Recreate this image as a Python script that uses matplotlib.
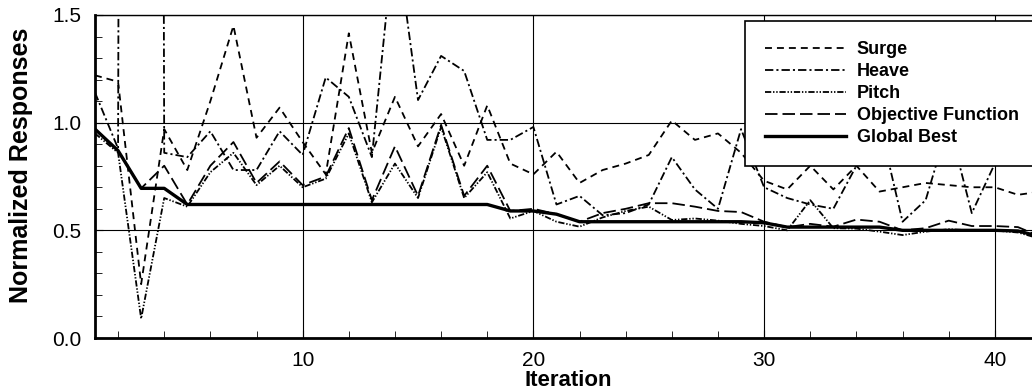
import numpy as np
import matplotlib
matplotlib.use("Agg")
import matplotlib.pyplot as plt
from matplotlib.ticker import MultipleLocator

plt.rcParams['font.family'] = ['Liberation Sans', 'DejaVu Sans']
plt.rcParams['lines.scale_dashes'] = False

iteration = np.arange(1, 43)

surge = [1.22, 1.19, 0.25, 0.97, 0.78, 1.10, 1.45, 0.93, 1.07, 0.91,
         0.76, 1.415, 0.86, 1.12, 0.89, 1.04, 0.80, 1.08, 0.81, 0.76,
         0.865, 0.72, 0.78, 0.81, 0.85, 1.01, 0.92, 0.95, 0.86, 0.73,
         0.69, 0.80, 0.69, 0.80, 0.68, 0.70, 0.72, 0.71, 0.70, 0.70,
         0.665, 0.68]
heave = [1.14, 0.88, 40.0, 0.86, 0.84, 0.96, 0.78, 0.78, 0.96, 0.85,
         1.21, 1.12, 0.84, 1.90, 1.105, 1.31, 1.24, 0.92, 0.92, 0.98,
         0.62, 0.66, 0.57, 0.58, 0.62, 0.84, 0.69, 0.60, 0.97, 0.70,
         0.65, 0.62, 0.60, 0.80, 1.00, 0.54, 0.64, 1.00, 0.58, 0.81,
         0.90, 0.95]
pitch = [0.95, 0.86, 0.09, 0.65, 0.61, 0.77, 0.86, 0.71, 0.80, 0.70,
         0.74, 0.95, 0.63, 0.81, 0.65, 0.98, 0.65, 0.77, 0.555, 0.59,
         0.54, 0.517, 0.56, 0.59, 0.61, 0.548, 0.555, 0.545, 0.53, 0.52,
         0.50, 0.64, 0.51, 0.508, 0.494, 0.478, 0.494, 0.505, 0.50, 0.499,
         0.49, 0.46]
objective = [0.97, 0.87, 0.695, 0.80, 0.62, 0.80, 0.91, 0.72, 0.82, 0.71,
             0.75, 0.975, 0.64, 0.89, 0.66, 0.99, 0.66, 0.80, 0.59, 0.60,
             0.575, 0.54, 0.58, 0.60, 0.626, 0.626, 0.61, 0.59, 0.585, 0.54,
             0.515, 0.53, 0.517, 0.55, 0.54, 0.50, 0.51, 0.545, 0.52, 0.52,
             0.515, 0.47]
global_best = [0.97, 0.87, 0.695, 0.695, 0.62, 0.62, 0.62, 0.62, 0.62, 0.62,
               0.62, 0.62, 0.62, 0.62, 0.62, 0.62, 0.62, 0.62, 0.59, 0.59,
               0.575, 0.54, 0.54, 0.54, 0.54, 0.54, 0.54, 0.54, 0.54, 0.535,
               0.515, 0.515, 0.515, 0.515, 0.515, 0.50, 0.50, 0.50, 0.50, 0.50,
               0.497, 0.47]

fig = plt.figure(figsize=(10.32, 3.89), dpi=100)
ax = fig.add_axes([95 / 1032, 51 / 389, 946 / 1032, 323 / 389])

ax.plot(iteration, surge, color='black', lw=1.3, dashes=(5, 3.6), label='Surge')
ax.plot(iteration, heave, color='black', lw=1.3, dashes=(6, 2.2, 1.5, 2.2), label='Heave')
ax.plot(iteration, pitch, color='black', lw=1.3, dashes=(4.5, 1.3, 1, 1.3, 1, 1.3), label='Pitch')
ax.plot(iteration, objective, color='black', lw=1.3, dashes=(9, 3.6), label='Objective Function')
ax.plot(iteration, global_best, color='black', lw=2.4, label='Global Best')

ax.set_xlim(1, 42)
ax.set_ylim(0, 1.5)
ax.xaxis.set_major_locator(MultipleLocator(10))
ax.xaxis.set_minor_locator(MultipleLocator(2))
ax.yaxis.set_major_locator(MultipleLocator(0.5))
ax.yaxis.set_minor_locator(MultipleLocator(0.1))
ax.yaxis.set_major_formatter(matplotlib.ticker.FormatStrFormatter('%.1f'))
ax.tick_params(which='both', direction='in', labelsize=15)
ax.tick_params(which='major', length=6, pad=9)
ax.tick_params(which='minor', length=5)
ax.tick_params(axis='y', which='major', pad=10)
ax.grid(True, which='major', color='black', lw=0.8)
ax.spines['bottom'].set_linewidth(2)
ax.spines['left'].set_linewidth(2)
ax.spines['top'].set_linewidth(1)

ax.set_xlabel('Iteration', fontsize=16, fontweight='bold', labelpad=0)
ax.set_ylabel('Normalized Responses', fontsize=18, fontweight='bold')
ax.yaxis.set_label_coords(-0.066, 0.535)

leg = ax.legend(loc='upper left', bbox_to_anchor=(0.687, 0.548, 0.35, 0.433),
                mode='expand', fancybox=False, framealpha=1, edgecolor='black',
                prop={'weight': 'bold', 'size': 13}, handlelength=4.5,
                handletextpad=0.6, labelspacing=0.28, borderpad=1.1,
                borderaxespad=0)
leg.get_frame().set_linewidth(1.2)

fig.savefig('out.png', dpi=100)
